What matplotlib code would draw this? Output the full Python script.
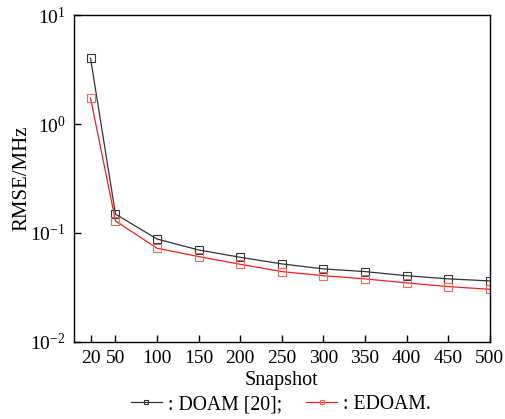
import matplotlib
matplotlib.use("Agg")
import matplotlib.pyplot as plt
from matplotlib.ticker import LogLocator, NullLocator

plt.rcParams["font.family"] = ["Liberation Serif", "DejaVu Serif"]
plt.rcParams["mathtext.fontset"] = "stix"

# Datos
snapshot = [20, 50, 100, 150, 200, 250, 300, 350, 400, 450, 500]
doam = [4.03, 0.149, 0.088, 0.0698, 0.0598, 0.052, 0.0468, 0.0442, 0.0405, 0.0379, 0.0363]
edoam = [1.73, 0.129, 0.0724, 0.0607, 0.0516, 0.0442, 0.0405, 0.0379, 0.0348, 0.0322, 0.0304]
xticks = [20, 50, 100, 150, 200, 250, 300, 350, 400, 450, 500]

fig = plt.figure(figsize=(5.06, 4.19), dpi=100)
ax = fig.add_axes([0.146, 0.184, 0.822, 0.78])

ax.plot(snapshot, doam, color="#333333", lw=0.9, marker="s", ms=6,
        mfc="none", mec="#333333", mew=0.8, label=": DOAM [20];")
ax.plot(snapshot, edoam, color="#f06a5a", lw=0.9, marker="s", ms=6,
        mfc="none", mec="#f06a5a", mew=0.8, label=": EDOAM.")

ax.set_yscale("log")
ax.set_ylim(1e-2, 1e1)
ax.set_xlim(0, 500)
ax.set_xticks(xticks)
ax.yaxis.set_major_locator(LogLocator(base=10, numticks=10))
ax.yaxis.set_minor_locator(NullLocator())
ax.tick_params(direction="in", length=5, width=1, labelsize=14, pad=6)
for s in ax.spines.values():
    s.set_linewidth(1)

ax.set_xlabel("Snapshot", fontsize=14.5, labelpad=3)
ax.set_ylabel("RMSE/MHz", fontsize=15, labelpad=-1)

h, l = ax.get_legend_handles_labels()
h[1].set_color("#f02020")
fig.legend(h, l, loc="lower center", bbox_to_anchor=(0.555, -0.03), ncol=2,
           frameon=False, fontsize=14.2, handlelength=1.6, handletextpad=0.3,
           columnspacing=1.2, markerscale=0.6)

fig.savefig("out.png", dpi=100)
